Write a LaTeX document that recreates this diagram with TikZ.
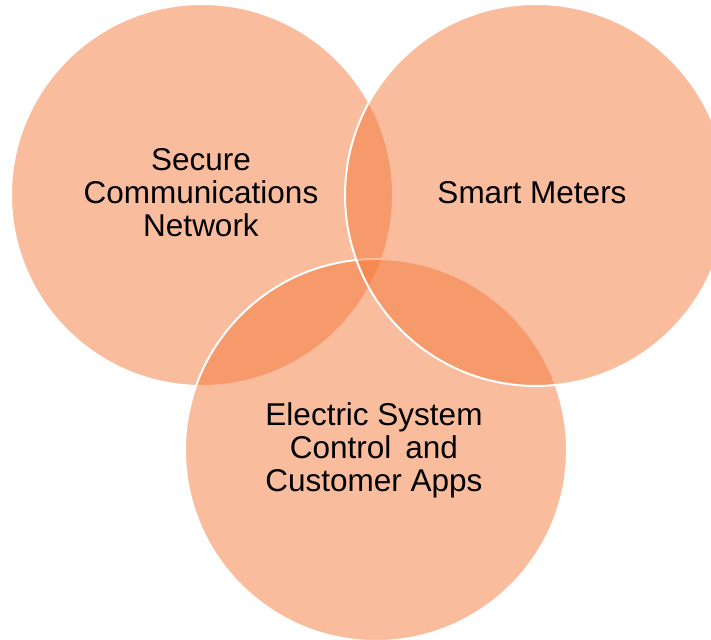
\documentclass[tikz,border=0pt]{standalone}
\usepackage{fontspec}
\setmainfont{Liberation Sans}
\usepackage{tikz}
\usetikzlibrary{positioning}
\definecolor{cOr}{HTML}{F4793A}

\begin{document}
\begin{tikzpicture}[
  x=1pt, y=1pt,
  venn/.style={circle, draw=white, line width=2pt, fill=cOr, fill opacity=0.5,
    minimum size=382pt, inner sep=0pt},
  lbl/.style={font=\fontsize{31.5}{33}\selectfont, align=center, inner sep=0pt}
]
\useasboundingbox (0,0) rectangle (711,-639);
% left, bottom, right -- later circles lie on top
\node[venn] (net) at (202,-195) {};
\node[venn] (apps) at (376,-450) {};
\node[venn] (meter) at (536,-195) {};
\node[lbl] (netL) at (201,-193) {Secure\\Communications\\Network};
\node[lbl] (meterL) at (532,-193) {Smart Meters};
\node[lbl] (appsL) at (374,-450) {Electric System\\Control\, and\\Customer Apps};
\end{tikzpicture}
\end{document}
